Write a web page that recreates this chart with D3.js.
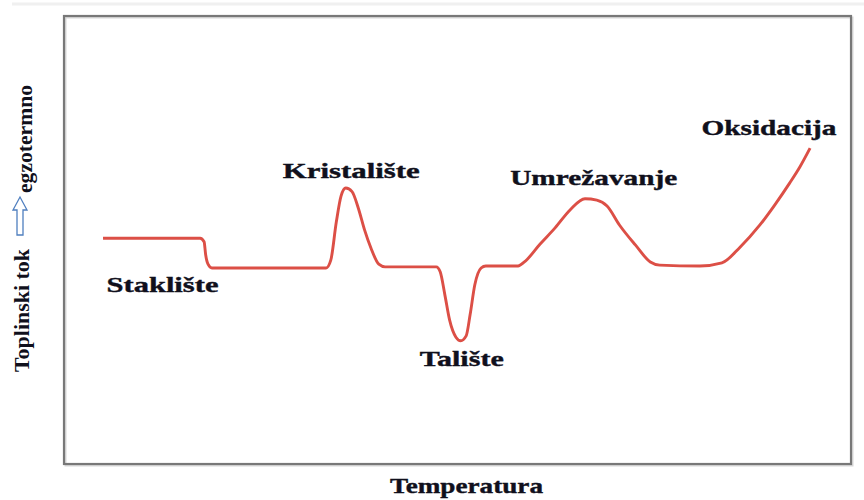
<!DOCTYPE html>
<html>
<head>
<meta charset="utf-8">
<script src="https://cdn.jsdelivr.net/npm/d3@7"></script>
<style>
  body { margin: 0; background: #fff; }
  text { font-family: "Liberation Serif", "Times New Roman", serif; font-weight: bold; fill: #10101c; }
</style>
</head>
<body>
<div id="chart"></div>
<script>
// DSC curve, temperature (0-100) vs heat flow (0-100), arbitrary units
const temperature = [4.96, 17.3, 17.8, 18.0, 18.3, 18.8, 33.3, 33.9, 34.6, 35.2, 35.8, 36.6, 37.4, 38.2, 39.0, 40.0, 40.8,
    47.3, 47.8, 48.4, 49.0, 49.8, 50.4, 51.1, 51.6, 52.2, 53.0, 53.6, 57.7, 58.5, 60.5, 62.4, 64.3, 66.2, 67.7, 69.0,
    70.6, 72.6, 74.5, 75.7, 80.8, 83.6, 85.9, 88.4, 90.3, 92.2, 93.5, 94.8];
const heatFlow = [50.4, 50.4, 49.6, 46.7, 44.6, 43.75, 43.75, 45.5, 54.0, 59.8, 61.6, 60.8, 57.1, 52.2, 48.2, 44.6, 44.0,
    44.0, 42.9, 37.7, 32.1, 28.3, 27.5, 28.6, 33.3, 40.0, 43.75, 44.2, 44.2, 45.1, 49.1, 52.7, 56.7, 59.2, 58.9, 57.6,
    53.3, 48.9, 45.1, 44.4, 44.2, 44.9, 48.4, 53.3, 57.8, 62.7, 66.3, 70.5];

// Annotations: label, anchor temperature, anchor heat flow, text width
const labelNames = ["Staklište", "Kristalište", "Talište", "Umrežavanje", "Oksidacija"];
const labelX = [5.4, 27.8, 45.2, 56.7, 81.0];
const labelY = [38.4, 63.8, 21.9, 62.3, 73.4];
const labelWidth = [112, 137, 84, 167, 135];

const width = 864;
const height = 500;
const box = {left: 64, right: 851, top: 16, bottom: 464};

const svg = d3.select("#chart").append("svg")
    .attr("width", width)
    .attr("height", height);

const x = d3.scaleLinear().domain([0, 100]).range([box.left, box.right]);
const y = d3.scaleLinear().domain([0, 100]).range([box.bottom, box.top]);

// faint line along the top of the picture
svg.append("line")
    .attr("x1", 12).attr("x2", 864).attr("y1", 4).attr("y2", 4)
    .attr("stroke", "#f0f0f0").attr("stroke-width", 3);

// Frame
svg.append("rect")
    .attr("x", box.left + 1.5).attr("y", box.top + 1.5)
    .attr("width", box.right - box.left).attr("height", box.bottom - box.top)
    .attr("fill", "none").attr("stroke", "#d8d8d8").attr("stroke-width", 2);
svg.append("rect")
    .attr("x", box.left).attr("y", box.top)
    .attr("width", box.right - box.left).attr("height", box.bottom - box.top)
    .attr("fill", "none").attr("stroke", "#787878").attr("stroke-width", 2.2);

// Curve
const points = temperature.map((t, i) => [t, heatFlow[i]]);
const line = d3.line()
    .x(d => x(d[0]))
    .y(d => y(d[1]))
    .curve(d3.curveMonotoneX);

svg.append("path")
    .datum(points)
    .attr("d", line)
    .attr("fill", "none")
    .attr("stroke", "#dc4f46")
    .attr("stroke-width", 2.9)
    .attr("stroke-linejoin", "round");

// Peak labels
svg.append("g")
    .selectAll("text")
    .data(labelNames)
    .join("text")
    .attr("x", (d, i) => x(labelX[i]))
    .attr("y", (d, i) => y(labelY[i]))
    .attr("font-size", 22)
    .attr("stroke", "#10101c")
    .attr("stroke-width", 0.4)
    .attr("textLength", (d, i) => labelWidth[i])
    .attr("lengthAdjust", "spacingAndGlyphs")
    .text(d => d);

// X axis title
svg.append("text")
    .attr("x", 390).attr("y", 493)
    .attr("font-size", 22)
    .attr("stroke", "#10101c")
    .attr("stroke-width", 0.4)
    .attr("textLength", 153)
    .attr("lengthAdjust", "spacingAndGlyphs")
    .text("Temperatura");

// Y axis title with hollow arrow
const yTitle = svg.append("g").attr("transform", "translate(29,0) rotate(-90)");
yTitle.append("text")
    .attr("x", -372).attr("y", 0)
    .attr("font-size", 22)
    .attr("textLength", 123)
    .attr("lengthAdjust", "spacingAndGlyphs")
    .text("Toplinski tok");
yTitle.append("text")
    .attr("x", -193).attr("y", 3)
    .attr("font-size", 22)
    .attr("textLength", 108)
    .attr("lengthAdjust", "spacingAndGlyphs")
    .text("egzotermno");

// Arrow (pointing up the page)
svg.append("path")
    .attr("d", "M17,235 L17,210 L13,210 L20,197 L27,210 L23,210 L23,235 Z")
    .attr("fill", "#fff")
    .attr("stroke", "#4f7fbf")
    .attr("stroke-width", 1.3);
</script>
</body>
</html>
